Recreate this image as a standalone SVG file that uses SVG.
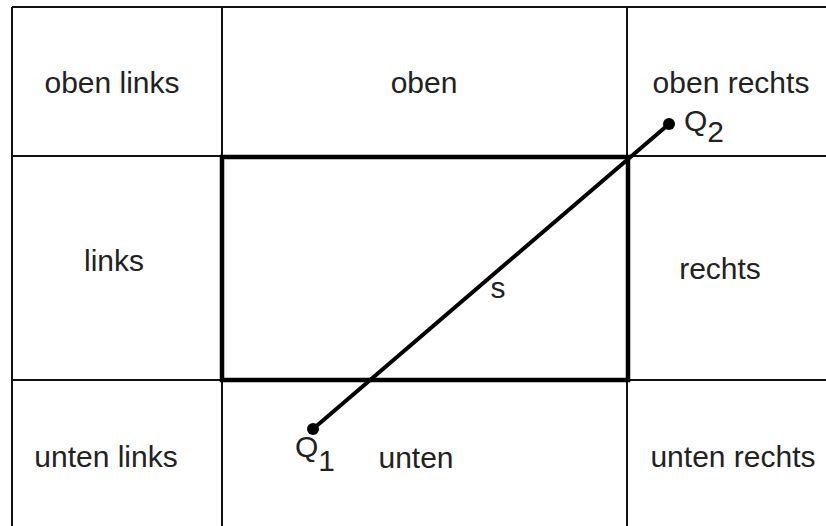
<svg xmlns="http://www.w3.org/2000/svg" width="826" height="526" viewBox="0 0 826 526">
<style>
.grid{stroke:#111;stroke-width:2;fill:none}
.thick{stroke:#000;stroke-width:4.5;fill:none}
.seg{stroke:#000;stroke-width:4;stroke-linecap:round}
.dot{fill:#000}
text{font-family:"Liberation Sans",Arial,sans-serif;font-size:30px;fill:#222}
.c{text-anchor:middle}
</style>
<rect width="826" height="526" fill="#fff"/>
<g id="grid">
<line class="grid" x1="12" y1="7" x2="826" y2="7"/>
<line class="grid" x1="12" y1="7" x2="12" y2="526"/>
<line class="grid" x1="222" y1="7" x2="222" y2="526"/>
<line class="grid" x1="627" y1="7" x2="627" y2="526"/>
<line class="grid" x1="12" y1="156" x2="826" y2="156"/>
<line class="grid" x1="12" y1="380" x2="826" y2="380"/>
</g>
<g id="rect">
<rect class="thick" x="222" y="157" width="406" height="223"/>
</g>
<g id="labels">
<text id="oben-links" class="c" x="112" y="93">oben links</text>
<text id="oben" class="c" x="424" y="93">oben</text>
<text id="oben-rechts" class="c" x="731" y="93">oben rechts</text>
<text id="links" class="c" x="114" y="271">links</text>
<text id="rechts" class="c" x="720" y="279">rechts</text>
<text id="unten-links" class="c" x="106" y="467">unten links</text>
<text id="unten" class="c" x="416" y="468">unten</text>
<text id="unten-rechts" class="c" x="733" y="467">unten rechts</text>
</g>
<g id="connectors">
<line class="seg" x1="313" y1="429" x2="669" y2="124"/>
<circle class="dot" cx="313" cy="429" r="6"/>
<circle class="dot" cx="669" cy="124" r="6"/>
</g>
<g id="point-labels">
<text x="684" y="131">Q<tspan dy="11">2</tspan></text>
<text x="295" y="457">Q<tspan dy="14">1</tspan></text>
<text class="c" x="498" y="298">s</text>
</g>
</svg>
